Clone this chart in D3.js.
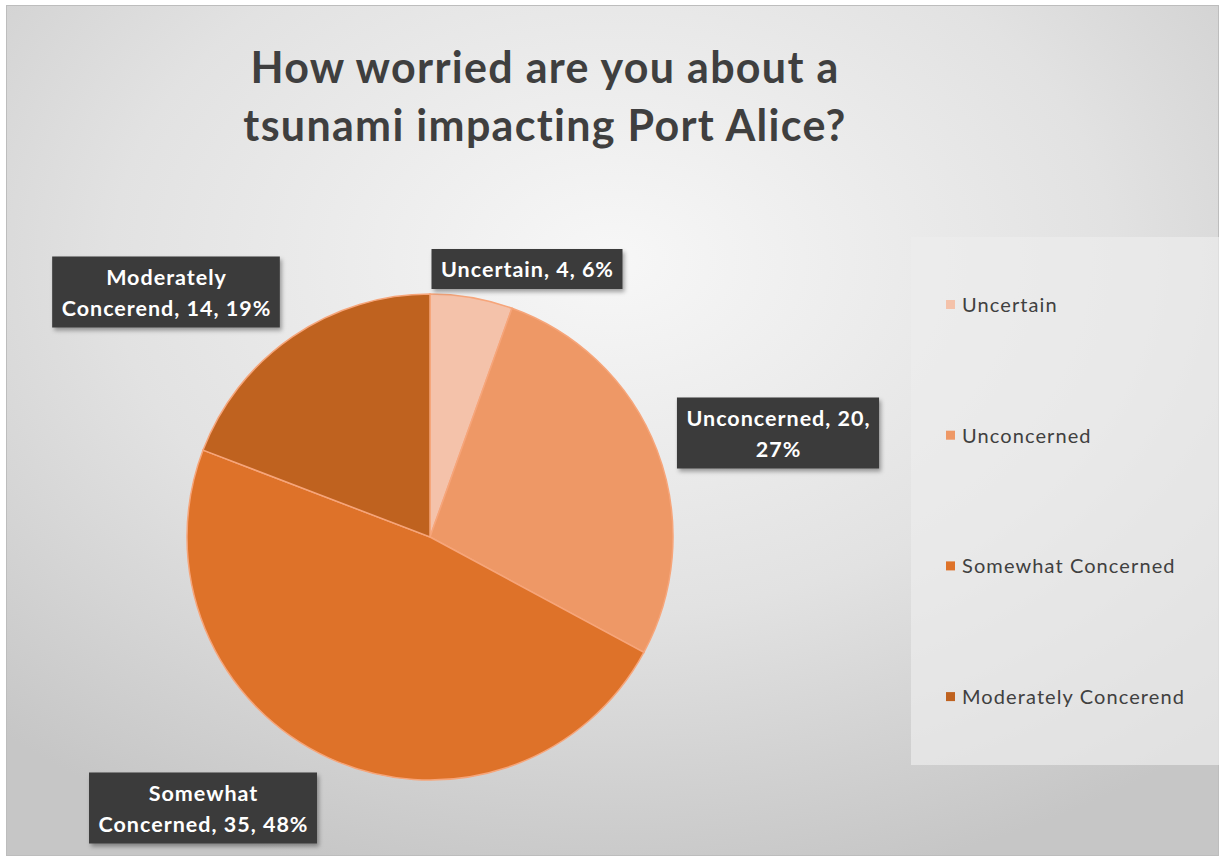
<!DOCTYPE html>
<html>
<head>
<meta charset="utf-8">
<script src="https://cdn.jsdelivr.net/npm/d3@7"></script>
<style>
  body { margin: 0; background: #fff; }
  svg { display: block; }
</style>
</head>
<body>
<script>
// data
const categories = ['Uncertain', 'Unconcerned', 'Somewhat Concerned', 'Moderately Concerend']
const counts = [4, 20, 35, 14]
const percents = ['6%', '27%', '48%', '19%']
const colours = ['#f4c2aa', '#ee9866', '#de7229', '#bf621f']
const titleLines = ['How worried are you about a', 'tsunami impacting Port Alice?']

// data label lines, per slice
const labelLines = [
  ['Uncertain, 4, 6%'],
  ['Unconcerned, 20,', '27%'],
  ['Somewhat', 'Concerned, 35, 48%'],
  ['Moderately', 'Concerend, 14, 19%']
]
// label box centres (chart layout, not data)
const labelPos = [[527, 269], [778, 433], [203, 808], [166, 292]]

const W = 1219, H = 856
const svg = d3.select('body').append('svg').attr('width', W).attr('height', H)

const defs = svg.append('defs')
const bg = defs.append('radialGradient').attr('id', 'bg')
  .attr('cx', '0.5').attr('cy', '0.3').attr('r', '0.75')
bg.append('stop').attr('offset', '0').attr('stop-color', '#f7f7f7')
bg.append('stop').attr('offset', '0.55').attr('stop-color', '#e2e2e2')
bg.append('stop').attr('offset', '1').attr('stop-color', '#c6c6c6')

const shadow = defs.append('filter').attr('id', 'shadow')
  .attr('x', '-10%').attr('y', '-10%').attr('width', '130%').attr('height', '140%')
shadow.append('feDropShadow').attr('dx', 2).attr('dy', 3).attr('stdDeviation', 2)
  .attr('flood-color', '#000').attr('flood-opacity', 0.35)

svg.append('rect').attr('x', 6).attr('y', 5).attr('width', W - 6).attr('height', H - 5)
  .attr('fill', 'url(#bg)')
svg.append('rect').attr('x', 6.5).attr('y', 5.5).attr('width', W - 7).attr('height', H - 6)
  .attr('fill', 'none').attr('stroke', '#bdbdbd')

// title
svg.selectAll('.title').data(titleLines).enter().append('text')
  .attr('class', 'title')
  .attr('x', 545)
  .attr('y', (d, i) => 83 + i * 58)
  .attr('text-anchor', 'middle')
  .attr('font-family', 'Lato, "Open Sans", sans-serif')
  .attr('font-weight', 'bold')
  .attr('font-size', 43)
  .attr('letter-spacing', 1.3)
  .attr('fill', '#3f3f3f')
  .text(d => d)

// legend panel
svg.append('rect').attr('x', 911).attr('y', 237).attr('width', 320).attr('height', 528)
  .attr('fill', '#ececec').attr('opacity', 0.7)

// pie
const cx = 430, cy = 537, r = 243
const pie = d3.pie().sort(null).value(d => d)
const arc = d3.arc().innerRadius(0).outerRadius(r)
const arcs = pie(counts)

const g = svg.append('g').attr('transform', `translate(${cx},${cy})`)
g.selectAll('path').data(arcs).enter().append('path')
  .attr('d', arc)
  .attr('fill', (d, i) => colours[i])
  .attr('stroke', '#f6a57a')
  .attr('stroke-width', 1.5)

// data labels
const lab = svg.selectAll('.lab').data(labelLines).enter().append('g')
  .attr('class', 'lab')
  .attr('transform', (d, i) => `translate(${labelPos[i][0]},${labelPos[i][1]})`)

lab.each(function (lines) {
  const gl = d3.select(this)
  const box = gl.append('rect').attr('fill', '#3a3a3a').attr('filter', 'url(#shadow)')
  const lh = 31
  const t = gl.selectAll('text').data(lines).enter().append('text')
    .attr('x', 0.5)
    .attr('y', (d, i) => (i - (lines.length - 1) / 2) * lh + 8)
    .attr('text-anchor', 'middle')
    .attr('font-family', 'Lato, "Open Sans", sans-serif')
    .attr('font-weight', 'bold')
    .attr('font-size', 21.5)
    .attr('letter-spacing', 1)
    .attr('fill', '#ffffff')
    .text(d => d)
  let wmax = 0
  t.each(function () { wmax = Math.max(wmax, this.getComputedTextLength()) })
  const bw = wmax + 18, bh = lines.length * lh + 9
  box.attr('x', -bw / 2).attr('y', -bh / 2).attr('width', bw).attr('height', bh)
})

// legend
const leg = svg.selectAll('.leg').data(categories).enter().append('g')
  .attr('class', 'leg')
  .attr('transform', (d, i) => `translate(946,${305 + i * 130.7})`)
leg.append('rect').attr('x', 0).attr('y', -5).attr('width', 9).attr('height', 9)
  .attr('fill', (d, i) => colours[i])
leg.append('text').attr('x', 16).attr('y', 7)
  .attr('font-family', 'Lato, "Open Sans", sans-serif')
  .attr('font-size', 20)
  .attr('letter-spacing', 1.1)
  .attr('fill', '#404040')
  .text(d => d)
</script>
</body>
</html>
